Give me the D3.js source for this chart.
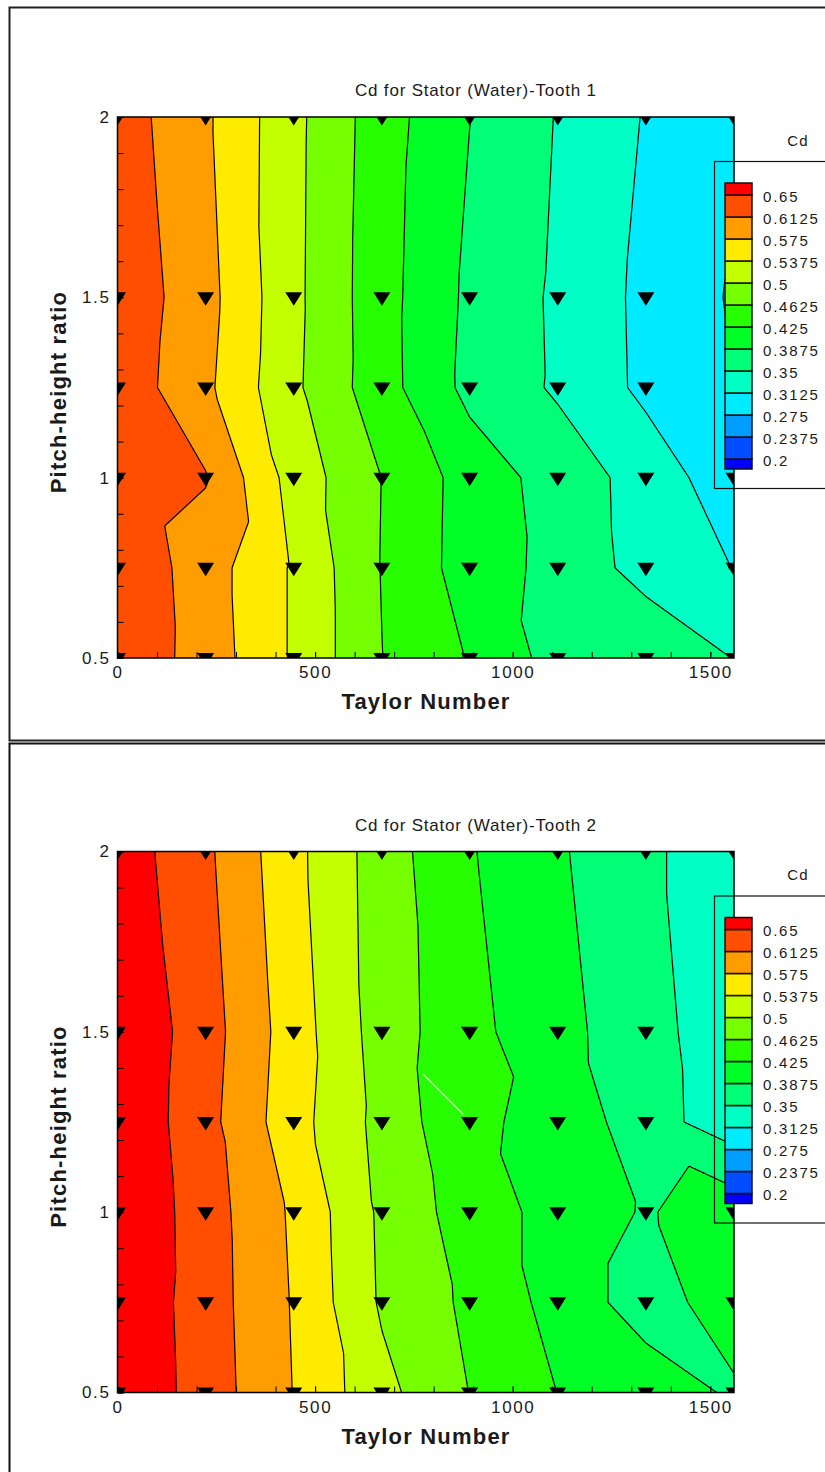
<!DOCTYPE html>
<html>
<head>
<meta charset="utf-8">
<script src="https://cdn.jsdelivr.net/npm/d3@7"></script>
<style>
  html, body { margin: 0; padding: 0; background: #fff; }
  svg { display: block; }
  text { font-family: "Liberation Sans", Arial, Helvetica, sans-serif; fill: #1a1a1a; }
</style>
</head>
<body>
<svg id="chart" width="825" height="1472"></svg>
<script>
// Measurement grid: Taylor number columns, pitch-height ratio rows (top to bottom)
const taylorNumbers = [0, 223, 446, 669, 891, 1114, 1337, 1560];
const pitchRatios = [2, 1.5, 1.25, 1, 0.75, 0.5];

// Cd per row (pitch ratio) and column (Taylor number)
const cdTooth1 = [
  [0.632, 0.581, 0.510, 0.442, 0.388, 0.348, 0.310, 0.297],
  [0.640, 0.588, 0.509, 0.439, 0.380, 0.344, 0.303, 0.271],
  [0.637, 0.583, 0.507, 0.440, 0.377, 0.345, 0.304, 0.2752],
  [0.635, 0.615, 0.522, 0.462, 0.409, 0.372, 0.335, 0.289],
  [0.644, 0.593, 0.533, 0.461, 0.408, 0.376, 0.336, 0.311],
  [0.643, 0.596, 0.533, 0.463, 0.422, 0.373, 0.380, 0.349]
];
const cdTooth2 = [
  [0.672, 0.620, 0.548, 0.481, 0.428, 0.392, 0.358, 0.324],
  [0.685, 0.629, 0.556, 0.483, 0.436, 0.399, 0.365, 0.324],
  [0.684, 0.625, 0.552, 0.488, 0.432, 0.414, 0.366, 0.329],
  [0.687, 0.630, 0.569, 0.493, 0.444, 0.412, 0.384, 0.410],
  [0.683, 0.631, 0.572, 0.495, 0.455, 0.412, 0.369, 0.408],
  [0.684, 0.633, 0.574, 0.511, 0.462, 0.4245, 0.410, 0.382]
];

// Contour levels and axis ticks
const cdLevels = [0.2, 0.2375, 0.275, 0.3125, 0.35, 0.3875, 0.425, 0.4625, 0.5, 0.5375, 0.575, 0.6125, 0.65];
const xMajorTicks = [0, 500, 1000, 1500];
const yMajorTicks = [0.5, 1, 1.5, 2];
const chartTitles = ["Cd for Stator (Water)-Tooth 1", "Cd for Stator (Water)-Tooth 2"];
// stray white stroke on the tooth 2 plot
const tooth2Streak = [[774, 1.382], [875, 1.271]];

// one colour per band, lowest band first
const bandColors = ["#0000ff", "#004eff", "#009dff", "#00ebff", "#00ffc4", "#00ff76", "#00ff27",
                    "#27ff00", "#76ff00", "#c4ff00", "#ffeb00", "#ff9d00", "#ff4e00", "#ff0000"];

const svg = d3.select("#chart");
const plotLeft = 117.5, plotRight = 734, plotHeight = 541;
const plotTops = [117, 851.5];

// panel frames
svg.append("rect").attr("x", 9.5).attr("y", 7.5).attr("width", 900).attr("height", 733)
  .attr("fill", "none").attr("stroke", "#222").attr("stroke-width", 2);
svg.append("rect").attr("x", 9.5).attr("y", 743.5).attr("width", 900).attr("height", 800)
  .attr("fill", "none").attr("stroke", "#111").attr("stroke-width", 2);

// piecewise-linear value on the triangulated grid (cells split top-left to bottom-right)
function cdAt(values, tx, pr) {
  let i = d3.bisectRight(taylorNumbers, tx) - 1;
  i = Math.max(0, Math.min(taylorNumbers.length - 2, i));
  let j = 0;
  while (j < pitchRatios.length - 2 && pr < pitchRatios[j + 1]) j++;
  const u = (tx - taylorNumbers[i]) / (taylorNumbers[i + 1] - taylorNumbers[i]);
  const w = (pitchRatios[j] - pr) / (pitchRatios[j] - pitchRatios[j + 1]);
  const A = values[j][i], B = values[j][i + 1], C = values[j + 1][i], D = values[j + 1][i + 1];
  return u >= w ? A + u * (B - A) + w * (D - B) : A + w * (C - A) + u * (D - C);
}

function drawPanel(p, values) {
  const top = plotTops[p];
  const x = d3.scaleLinear().domain([0, 1560]).range([plotLeft, plotRight]);
  const y = d3.scaleLinear().domain([0.5, 2]).range([top + plotHeight, top]);
  const clipId = "plotClip" + p;
  svg.append("clipPath").attr("id", clipId).append("rect")
    .attr("x", plotLeft).attr("y", top).attr("width", plotRight - plotLeft).attr("height", plotHeight);

  // title
  svg.append("text").text(chartTitles[p])
    .attr("x", 355).attr("y", top - 21)
    .attr("textLength", 241).attr("lengthAdjust", "spacing")
    .style("font-size", "17px");

  // dense sampling of the triangulated field for contouring
  const nx = Math.round(plotRight - plotLeft) + 1, ny = Math.round(plotHeight) + 1;
  const sx = d3.scaleLinear().domain([0, nx - 1]).range(x.domain());
  const sy = d3.scaleLinear().domain([0, ny - 1]).range([2, 0.5]);
  const grid = new Float64Array(nx * ny);
  for (let j = 0; j < ny; j++) {
    const pr = sy(j);
    for (let i = 0; i < nx; i++) grid[j * nx + i] = cdAt(values, sx(i), pr);
  }
  const contours = d3.contours().size([nx, ny]).thresholds(cdLevels)(grid);
  const path = d3.geoPath(d3.geoTransform({
    point(cx, cy) { this.stream.point(x(sx(cx - 0.5)), y(sy(cy - 0.5))); }
  }));

  const plot = svg.append("g").attr("clip-path", `url(#${clipId})`);
  plot.append("rect").attr("x", plotLeft).attr("y", top)
    .attr("width", plotRight - plotLeft).attr("height", plotHeight).attr("fill", bandColors[0]);
  plot.selectAll("path.band").data(contours).join("path").attr("class", "band")
    .attr("d", path).attr("fill", (d, k) => bandColors[k + 1]).attr("stroke", "none");
  plot.selectAll("path.iso").data(contours).join("path").attr("class", "iso")
    .attr("d", path).attr("fill", "none").attr("stroke", "#000").attr("stroke-width", 1.2);

  if (p === 1) {
    plot.append("line")
      .attr("x1", x(tooth2Streak[0][0])).attr("y1", y(tooth2Streak[0][1]))
      .attr("x2", x(tooth2Streak[1][0])).attr("y2", y(tooth2Streak[1][1]))
      .attr("stroke", "#fff").attr("stroke-width", 1.2);
  }

  // data point markers (downward triangles)
  const pts = [];
  pitchRatios.forEach((pr, j) => taylorNumbers.forEach((tn, i) => pts.push([tn, pr])));
  plot.selectAll("path.marker").data(pts).join("path").attr("class", "marker")
    .attr("d", d => {
      const px = x(d[0]), py = y(d[1]);
      return `M${px - 8.5},${py - 5}L${px + 8.5},${py - 5}L${px},${py + 8.5}Z`;
    })
    .attr("fill", "#000");

  // axes with inward ticks
  const xMinor = svg.append("g").attr("transform", `translate(0,${top + plotHeight})`)
    .call(d3.axisBottom(x).tickValues(d3.range(0, 1561, 100)).tickSize(-6).tickFormat(""));
  const xMajor = svg.append("g").attr("transform", `translate(0,${top + plotHeight})`)
    .call(d3.axisBottom(x).tickValues(xMajorTicks).tickSize(-6).tickPadding(8).tickFormat(d3.format("d")));
  const yMinor = svg.append("g").attr("transform", `translate(${plotLeft},0)`)
    .call(d3.axisLeft(y).tickValues(d3.range(5, 21).map(v => v / 10)).tickSize(-6).tickFormat(""));
  const yMajor = svg.append("g").attr("transform", `translate(${plotLeft},0)`)
    .call(d3.axisLeft(y).tickValues(yMajorTicks).tickSize(-6).tickPadding(7).tickFormat(d => String(d)));
  [xMinor, xMajor, yMinor, yMajor].forEach(a => {
    a.select(".domain").remove();
    a.selectAll(".tick line").attr("stroke", "#000");
    a.selectAll("text").attr("fill", "#1a1a1a")
      .style("font-size", "17px").style("letter-spacing", "1.6px")
      .style("font-family", "'Liberation Sans', Arial, sans-serif");
  });

  // plot frame
  svg.append("rect").attr("x", plotLeft).attr("y", top)
    .attr("width", plotRight - plotLeft).attr("height", plotHeight)
    .attr("fill", "none").attr("stroke", "#000").attr("stroke-width", 1.5);

  // axis titles
  svg.append("text").text("Taylor Number")
    .attr("x", 426).attr("y", top + plotHeight + 51).attr("text-anchor", "middle")
    .style("font-size", "22px").style("font-weight", "bold").style("letter-spacing", "1.2px");
  svg.append("text").text("Pitch-height ratio")
    .attr("transform", `translate(66,${top + 275}) rotate(-90)`).attr("text-anchor", "middle")
    .style("font-size", "22px").style("font-weight", "bold").style("letter-spacing", "1.2px");

  // colour legend
  const legendTop = top + 44.5;
  svg.append("rect").attr("x", 714.5).attr("y", legendTop).attr("width", 200).attr("height", 327)
    .attr("fill", "none").attr("stroke", "#111").attr("stroke-width", 1.2);
  svg.append("text").text("Cd").attr("x", 798).attr("y", top + 25)
    .attr("text-anchor", "middle").attr("dominant-baseline", "middle")
    .style("font-size", "15px").style("letter-spacing", "1.2px");

  const cbTop = top + 66;
  const cb = d3.scaleLinear().domain([0.65, 0.2]).range([cbTop + 12, cbTop + 12 + 264]);
  const boxes = bandColors.map((c, k) => {
    const y0 = k === bandColors.length - 1 ? cbTop : cb(cdLevels[k]);
    const y1 = k === 0 ? cb(cdLevels[0]) + 10 : cb(cdLevels[k - 1]);
    return { c, y0, y1 };
  });
  svg.append("g").selectAll("rect").data(boxes).join("rect")
    .attr("x", 725).attr("width", 27)
    .attr("y", d => d.y0).attr("height", d => d.y1 - d.y0)
    .attr("fill", d => d.c).attr("stroke", "#111").attr("stroke-width", 1.5);
  svg.append("g").selectAll("text").data(cdLevels).join("text")
    .text(d => String(d))
    .attr("x", 763).attr("y", d => cb(d) + 3).attr("dominant-baseline", "middle")
    .style("font-size", "15px").style("letter-spacing", "1.8px");
}

drawPanel(0, cdTooth1);
drawPanel(1, cdTooth2);
</script>
</body>
</html>
